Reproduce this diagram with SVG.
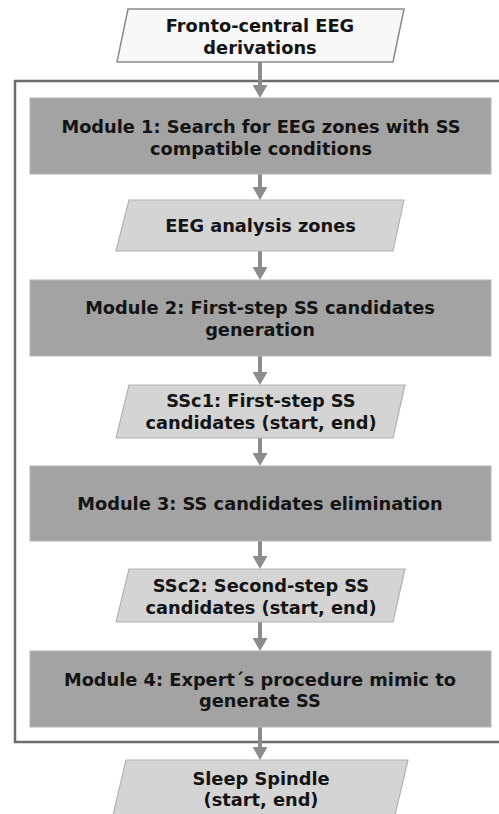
<svg xmlns="http://www.w3.org/2000/svg" width="499" height="814" viewBox="0 0 499 814">
<style>
.module{fill:#a3a3a3;stroke:#b4b4b4;stroke-width:1}
.data{fill:#d4d4d4;stroke:#b2b2b2;stroke-width:1.2}
.input{fill:#f8f8f8;stroke:#8a8a8a;stroke-width:1.5}
.frame{fill:none;stroke:#6c6c6c;stroke-width:2.5}
.conn{stroke:#8c8c8c;stroke-width:4;fill:none;marker-end:url(#ah)}
text{font-family:"DejaVu Sans","Verdana",sans-serif;font-weight:bold;font-size:17.8px;fill:#141414;text-anchor:middle}
</style>
<defs>
<marker id="ah" markerUnits="userSpaceOnUse" markerWidth="13" markerHeight="15" viewBox="0 0 13 15" refX="5" refY="7.5" orient="auto">
<path d="M0,0 L13,7.5 L0,15 z" fill="#8c8c8c"/>
</marker>
</defs>
<rect width="499" height="814" fill="#ffffff"/>
<path class="frame" d="M502 81 H15 V742 H502"/>
<g id="connectors">
<line class="conn" x1="260" y1="62" x2="260" y2="90"/>
<line class="conn" x1="260" y1="174" x2="260" y2="192"/>
<line class="conn" x1="260" y1="251" x2="260" y2="272"/>
<line class="conn" x1="260" y1="356" x2="260" y2="377"/>
<line class="conn" x1="260" y1="438" x2="260" y2="458"/>
<line class="conn" x1="260" y1="541" x2="260" y2="561"/>
<line class="conn" x1="260" y1="622" x2="260" y2="643"/>
<line class="conn" x1="260" y1="727" x2="260" y2="752"/>
</g>
<g id="input">
<polygon class="input" points="128,9 404,9 393,62 117,62"/>
<text x="260" y="32">Fronto-central EEG</text>
<text x="260" y="53.5">derivations</text>
</g>
<g id="module1">
<rect class="module" x="30" y="98" width="461" height="76"/>
<text x="261" y="132.5">Module 1: Search for EEG zones with SS</text>
<text x="261" y="154.5">compatible conditions</text>
</g>
<g id="zones">
<polygon class="data" points="129,200 404,200 393,251 116,251"/>
<text x="260.5" y="232">EEG analysis zones</text>
</g>
<g id="module2">
<rect class="module" x="30" y="280" width="461" height="76"/>
<text x="260" y="314">Module 2: First-step SS candidates</text>
<text x="260" y="336">generation</text>
</g>
<g id="ssc1">
<polygon class="data" points="129,385 405,385 393,438 116,438"/>
<text x="261" y="407">SSc1: First-step SS</text>
<text x="261" y="429">candidates (start, end)</text>
</g>
<g id="module3">
<rect class="module" x="30" y="466" width="461" height="75"/>
<text x="260" y="510">Module 3: SS candidates elimination</text>
</g>
<g id="ssc2">
<polygon class="data" points="129,569 405,569 393,622 116,622"/>
<text x="261" y="592">SSc2: Second-step SS</text>
<text x="261" y="613.5">candidates (start, end)</text>
</g>
<g id="module4">
<rect class="module" x="30" y="651" width="461" height="76"/>
<text x="260" y="685.5">Module 4: Expert´s procedure mimic to</text>
<text x="260" y="707">generate SS</text>
</g>
<g id="output">
<polygon class="data" points="126,760 408,760 395,815 113,815"/>
<text x="261" y="785">Sleep Spindle</text>
<text x="261" y="806">(start, end)</text>
</g>
</svg>
